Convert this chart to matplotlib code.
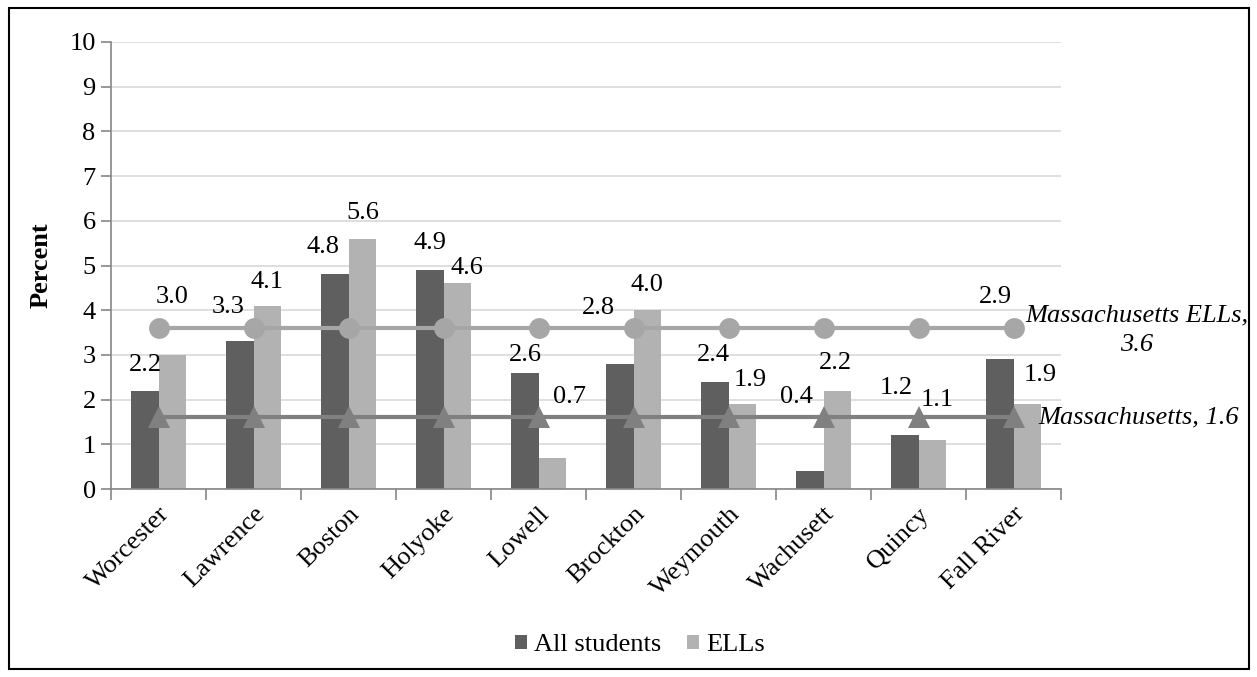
import matplotlib
matplotlib.use("Agg")
import matplotlib.pyplot as plt
from matplotlib.patches import Rectangle
import numpy as np

plt.rcParams['font.family'] = ['Liberation Serif', 'DejaVu Serif']

categories = ["Worcester", "Lawrence", "Boston", "Holyoke", "Lowell",
              "Brockton", "Weymouth", "Wachusett", "Quincy", "Fall River"]
all_students = [2.2, 3.3, 4.8, 4.9, 2.6, 2.8, 2.4, 0.4, 1.2, 2.9]
ells = [3.0, 4.1, 5.6, 4.6, 0.7, 4.0, 1.9, 2.2, 1.1, 1.9]
ma_ells = 3.6
ma_all = 1.6
yticks = list(range(0, 11))

# label placement (layout only): x offset in category units, y offset in data units
dark_dx = [-0.14, -0.27, -0.27, -0.14, -0.14, -0.37, -0.16, -0.28, -0.23, -0.19]
dark_dy = [0.57, 0.77, 0.61, 0.60, 0.40, 1.25, 0.60, 1.66, 1.06, 1.40]
light_dx = [0.14, 0.14, 0.15, 0.25, 0.33, 0.14, 0.23, 0.13, 0.20, 0.28]
light_dy = [1.30, 0.53, 0.57, 0.34, 1.36, 0.56, 0.54, 0.62, 0.89, 0.65]

DARK = "#5F5F5F"
LIGHT = "#B2B2B2"
ELL_LINE = "#A6A6A6"
ALL_LINE = "#808080"
FS = 19

fig = plt.figure(figsize=(12.57, 6.77), dpi=100)
ax = fig.add_axes([111/1257, 1-489/677, 950/1257, 447/677])

x = np.arange(len(categories))
w = 0.29
ax.bar(x - w/2, all_students, w, color=DARK, label="All students", zorder=2)
ax.bar(x + w/2, ells, w, color=LIGHT, label="ELLs", zorder=2)

ax.plot(x, [ma_ells]*len(x), color=ELL_LINE, lw=3, marker='o', ms=15,
        markeredgewidth=0, zorder=3)
ax.plot(x, [ma_all]*len(x), color=ALL_LINE, lw=3, marker='^', ms=16,
        markeredgewidth=0, zorder=3)

for i in range(len(x)):
    ax.text(x[i] + dark_dx[i], all_students[i] + dark_dy[i], f"{all_students[i]:.1f}",
            ha='center', va='center', fontsize=FS, zorder=4)
    ax.text(x[i] + light_dx[i], ells[i] + light_dy[i], f"{ells[i]:.1f}",
            ha='center', va='center', fontsize=FS, zorder=4)

ax.text(len(x) - 1 + 1.3, ma_ells + 0.28, "Massachusetts ELLs,", ha='center', va='center',
        fontsize=FS, style='italic', zorder=4)
ax.text(len(x) - 1 + 1.3, ma_ells - 0.38, f"{ma_ells:.1f}", ha='center', va='center',
        fontsize=FS, style='italic', zorder=4)
ax.text(len(x) - 1 + 0.26, ma_all, f"Massachusetts, {ma_all:.1f}", ha='left', va='center',
        fontsize=FS, style='italic', zorder=4)

ax.set_xlim(-0.5, len(x) - 0.5)
ax.set_ylim(0, 10)
ax.set_yticks(yticks)
ax.set_yticklabels([str(t) for t in yticks], fontsize=FS)
ax.yaxis.grid(True, color="#D9D9D9", lw=1.2, zorder=0)
ax.set_axisbelow(True)
ax.set_ylabel("Percent", fontsize=FS, fontweight='bold', labelpad=12)

ax.set_xticks(x)
ax.set_xticklabels(categories, rotation=45, ha='right', va='top', rotation_mode='anchor',
                   fontsize=FS)
ax.tick_params(axis='x', length=0, pad=10)
ax.set_xticks(np.arange(-0.5, len(x)), minor=True)
ax.tick_params(axis='x', which='minor', length=8, color="#868686", width=1.2)
ax.tick_params(axis='y', length=7, color="#868686", width=1.2, pad=4)

for s in ['top', 'right']:
    ax.spines[s].set_visible(False)
for s in ['left', 'bottom']:
    ax.spines[s].set_color("#868686")
    ax.spines[s].set_linewidth(1.2)

leg = fig.legend(handles=ax.containers, labels=["All students", "ELLs"],
                 loc='center', bbox_to_anchor=(640/1257, 1-645/677), ncol=2,
                 frameon=False, fontsize=FS, handlelength=0.45, handleheight=0.45,
                 handletextpad=0.27, columnspacing=1.0)

fig.patches.append(Rectangle((9/1257, 1-669/677), 1240/1257, 661/677,
                             transform=fig.transFigure, fill=False,
                             edgecolor='black', lw=1.5))

fig.savefig("out.png", dpi=100)
